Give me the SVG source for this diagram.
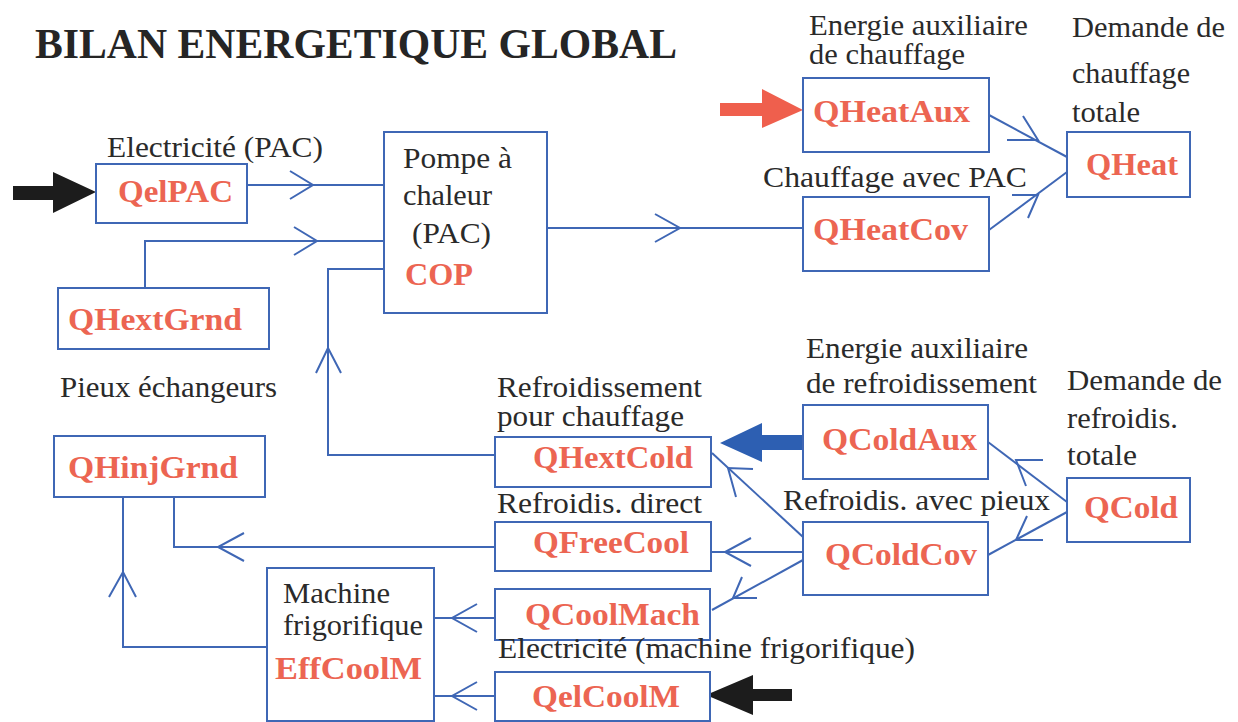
<svg xmlns="http://www.w3.org/2000/svg" width="1238" height="722" viewBox="0 0 1238 722">
<style>
.box{fill:#fff;stroke:#3f67b5;stroke-width:2}
.ln{fill:none;stroke:#3f67b5;stroke-width:2}
.lbl{font-family:"Liberation Serif","Times New Roman",serif;font-size:29px;fill:#2a2a2a}
.var{font-family:"Liberation Serif","Times New Roman",serif;font-size:32px;font-weight:bold;fill:#ec6552}
.title{font-family:"Liberation Serif","Times New Roman",serif;font-size:43px;font-weight:bold;fill:#252525}
</style>
<rect width="1238" height="722" fill="#fff"/>
<text class="title" x="35" y="58" textLength="642" lengthAdjust="spacingAndGlyphs">BILAN ENERGETIQUE GLOBAL</text>

<g id="connectors">
<polyline class="ln" points="247,185 384,185"/>
<polyline class="ln" points="145,288 145,241 384,241"/>
<polyline class="ln" points="384,269 328,269 328,455 495,455"/>
<polyline class="ln" points="547,228 803,228"/>
<polyline class="ln" points="989,115 1067,157"/>
<polyline class="ln" points="989,230 1067,172"/>
<polyline class="ln" points="988,442 1067,502"/>
<polyline class="ln" points="988,555 1067,512"/>
<polyline class="ln" points="803,537 712,453"/>
<polyline class="ln" points="803,552 712,552"/>
<polyline class="ln" points="803,560 712,610"/>
<polyline class="ln" points="495,547 174,547 174,497"/>
<polyline class="ln" points="267,647 123,647 123,497"/>
<polyline class="ln" points="434,618 495,618"/>
<polyline class="ln" points="434,696 495,696"/>
<polyline class="ln" points="290,171 313,185 290,199"/>
<polyline class="ln" points="294,227 317,241 294,255"/>
<polyline class="ln" points="316,373 328,348 341,373"/>
<polyline class="ln" points="655,214 680,228 655,242"/>
<polyline class="ln" points="1007,140 1038,140 1023,116"/>
<polyline class="ln" points="1012,195 1038,195 1028,218"/>
<polyline class="ln" points="1043,460 1016,460 1026,486"/>
<polyline class="ln" points="1043,540 1016,540 1027,516"/>
<polyline class="ln" points="753,469 728,468 736,497"/>
<polyline class="ln" points="751,538 725,552 751,566"/>
<polyline class="ln" points="757,598 733,598 742,577"/>
<polyline class="ln" points="244,533 218,547 244,561"/>
<polyline class="ln" points="109,597 123,572 136,597"/>
<polyline class="ln" points="477,604 452,618 477,632"/>
<polyline class="ln" points="477,682 452,696 477,710"/>
<polygon fill="#1c1c1c" points="13,186 53,186 53,172 96,192 53,213 53,200 13,200"/>
<polygon fill="#ef5f4d" points="720,103 762,103 762,89 803,110 762,128 762,116 720,116"/>
<polygon fill="#2d5fb2" points="803,435 762,435 762,423 720,443 762,462 762,450 803,450"/>
<polygon fill="#1c1c1c" points="792,689 753,689 753,675 706,695 753,715 753,701 792,701"/>
</g>

<g id="QelPAC">
<text class="lbl" x="107" y="157" textLength="216" lengthAdjust="spacingAndGlyphs">Electricité (PAC)</text>
<rect class="box" x="96" y="164" width="151" height="59"/>
<text class="var" x="118" y="202" textLength="115" lengthAdjust="spacingAndGlyphs">QelPAC</text>
</g>
<g id="PAC">
<rect class="box" x="384" y="132" width="163" height="181"/>
<text class="lbl" x="403" y="168" textLength="109" lengthAdjust="spacingAndGlyphs">Pompe à</text>
<text class="lbl" x="403" y="205" textLength="89" lengthAdjust="spacingAndGlyphs">chaleur</text>
<text class="lbl" x="412" y="243" textLength="79" lengthAdjust="spacingAndGlyphs">(PAC)</text>
<text class="var" x="405" y="285" textLength="68" lengthAdjust="spacingAndGlyphs">COP</text>
</g>
<g id="QHextGrnd">
<rect class="box" x="58" y="288" width="211" height="61"/>
<text class="var" x="68" y="330" textLength="174" lengthAdjust="spacingAndGlyphs">QHextGrnd</text>
</g>
<g id="pieux">
<text class="lbl" x="60" y="397" textLength="217" lengthAdjust="spacingAndGlyphs">Pieux échangeurs</text>
</g>
<g id="QHinjGrnd">
<rect class="box" x="54" y="436" width="211" height="61"/>
<text class="var" x="68" y="478" textLength="170" lengthAdjust="spacingAndGlyphs">QHinjGrnd</text>
</g>
<g id="Machine">
<rect class="box" x="267" y="568" width="167" height="153"/>
<text class="lbl" x="283" y="603" textLength="107" lengthAdjust="spacingAndGlyphs">Machine</text>
<text class="lbl" x="283" y="635" textLength="140" lengthAdjust="spacingAndGlyphs">frigorifique</text>
<text class="var" x="275" y="679" textLength="147" lengthAdjust="spacingAndGlyphs">EffCoolM</text>
</g>
<g id="QHeatAux">
<text class="lbl" x="809" y="35" font-size="28" textLength="219" lengthAdjust="spacingAndGlyphs">Energie auxiliaire</text>
<text class="lbl" x="809" y="64" font-size="28" textLength="156" lengthAdjust="spacingAndGlyphs">de chauffage</text>
<rect class="box" x="803" y="78" width="186" height="74"/>
<text class="var" x="813" y="122" textLength="157" lengthAdjust="spacingAndGlyphs">QHeatAux</text>
</g>
<g id="QHeatCov">
<text class="lbl" x="763" y="187" textLength="264" lengthAdjust="spacingAndGlyphs">Chauffage avec PAC</text>
<rect class="box" x="803" y="197" width="186" height="74"/>
<text class="var" x="813" y="240" textLength="155" lengthAdjust="spacingAndGlyphs">QHeatCov</text>
</g>
<g id="QHeat">
<text class="lbl" x="1072" y="37" textLength="153" lengthAdjust="spacingAndGlyphs">Demande de</text>
<text class="lbl" x="1072" y="83" textLength="118" lengthAdjust="spacingAndGlyphs">chauffage</text>
<text class="lbl" x="1072" y="122" textLength="68" lengthAdjust="spacingAndGlyphs">totale</text>
<rect class="box" x="1067" y="132" width="123" height="65"/>
<text class="var" x="1086" y="175" textLength="92" lengthAdjust="spacingAndGlyphs">QHeat</text>
</g>
<g id="QHextCold">
<text class="lbl" x="497" y="397" textLength="205" lengthAdjust="spacingAndGlyphs">Refroidissement</text>
<text class="lbl" x="497" y="426" textLength="187" lengthAdjust="spacingAndGlyphs">pour chauffage</text>
<rect class="box" x="495" y="437" width="216" height="50"/>
<text class="var" x="533" y="468" textLength="160" lengthAdjust="spacingAndGlyphs">QHextCold</text>
</g>
<g id="QFreeCool">
<text class="lbl" x="497" y="513" textLength="205" lengthAdjust="spacingAndGlyphs">Refroidis. direct</text>
<rect class="box" x="495" y="522" width="216" height="49"/>
<text class="var" x="533" y="553" textLength="156" lengthAdjust="spacingAndGlyphs">QFreeCool</text>
</g>
<g id="QCoolMach">
<rect class="box" x="495" y="589" width="215" height="51"/>
<text class="var" x="525" y="625" textLength="175" lengthAdjust="spacingAndGlyphs">QCoolMach</text>
</g>
<g id="QelCoolM">
<text class="lbl" x="498" y="658" textLength="417" lengthAdjust="spacingAndGlyphs">Electricité (machine frigorifique)</text>
<rect class="box" x="495" y="672" width="215" height="49"/>
<text class="var" x="532" y="707" textLength="148" lengthAdjust="spacingAndGlyphs">QelCoolM</text>
</g>
<g id="QColdAux">
<text class="lbl" x="806" y="358" textLength="222" lengthAdjust="spacingAndGlyphs">Energie auxiliaire</text>
<text class="lbl" x="806" y="393" textLength="231" lengthAdjust="spacingAndGlyphs">de refroidissement</text>
<rect class="box" x="803" y="405" width="185" height="74"/>
<text class="var" x="822" y="450" textLength="155" lengthAdjust="spacingAndGlyphs">QColdAux</text>
</g>
<g id="QColdCov">
<text class="lbl" x="783" y="510" textLength="267" lengthAdjust="spacingAndGlyphs">Refroidis. avec pieux</text>
<rect class="box" x="803" y="522" width="185" height="73"/>
<text class="var" x="825" y="565" textLength="152" lengthAdjust="spacingAndGlyphs">QColdCov</text>
</g>
<g id="QCold">
<text class="lbl" x="1067" y="390" textLength="155" lengthAdjust="spacingAndGlyphs">Demande de</text>
<text class="lbl" x="1067" y="428" textLength="111" lengthAdjust="spacingAndGlyphs">refroidis.</text>
<text class="lbl" x="1067" y="465" textLength="70" lengthAdjust="spacingAndGlyphs">totale</text>
<rect class="box" x="1067" y="478" width="123" height="64"/>
<text class="var" x="1084" y="518" textLength="94" lengthAdjust="spacingAndGlyphs">QCold</text>
</g>
</svg>
